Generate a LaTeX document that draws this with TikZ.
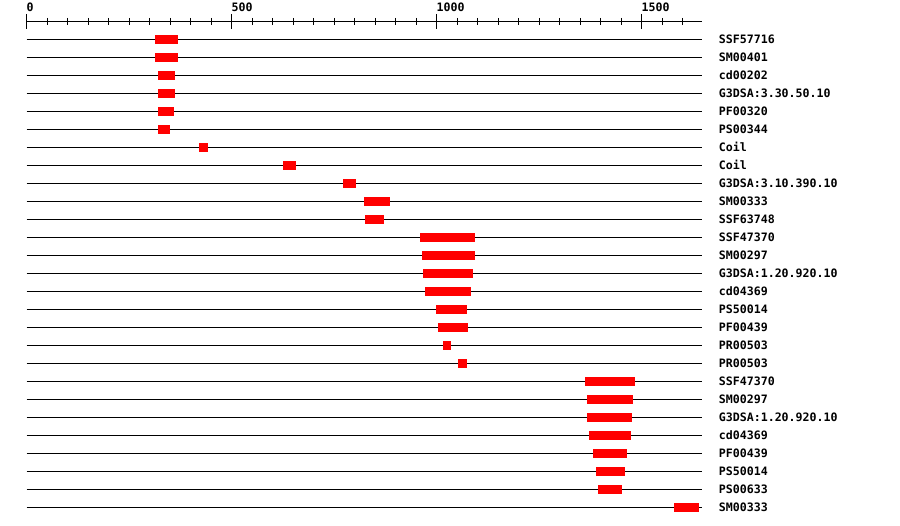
\documentclass[tikz,border=0pt]{standalone}
\usepackage{fontspec}
\setmonofont{DejaVu Sans Mono}
\usepackage{xcolor}

\tikzset{
  track/.style={line width=1pt},
  hit/.style={fill=red},
  lbl/.style={anchor=base west, inner sep=0pt, font=\ttfamily\bfseries\fontsize{11.6}{12}\selectfont},
}

\begin{document}
\begin{tikzpicture}[x=1pt, y=-1pt, line cap=butt]
\useasboundingbox (0,0) rectangle (900,526);
\begin{scope}[xshift=26.5pt, x=0.41pt]
% ruler
\draw[track] (0,21.5) -- (1648,21.5);
\foreach \k in {0,50,...,1600} \draw[track] (\k,18) -- (\k,25);
\foreach \k in {0,500,1000,1500} {
  \draw[track] (\k,14) -- (\k,29);
  \node[lbl] (tick\k) at (\k,12) {\k};
}
% domain tracks
\foreach \a/\b/\t [count=\i from 0, evaluate=\i as \y using 39.5+18*\i] in {
  314/370/SSF57716, 314/370/SM00401, 321/363/cd00202, 321/363/G3DSA:3.30.50.10,
  321/360/PF00320, 321/350/PS00344, 421/443/Coil, 626/658/Coil,
  772/804/G3DSA:3.10.390.10, 824/887/SM00333, 826/873/SSF63748,
  960/1094/SSF47370, 965/1094/SM00297, 968/1090/G3DSA:1.20.920.10,
  972/1085/cd04369, 999/1075/PS50014, 1004/1077/PF00439, 1016/1036/PR00503,
  1053/1075/PR00503, 1363/1483/SSF47370, 1368/1480/SM00297,
  1368/1477/G3DSA:1.20.920.10, 1372/1475/cd04369, 1382/1465/PF00439,
  1390/1460/PS50014, 1395/1453/PS00633, 1580/1641/SM00333} {
  \draw[track] (0,\y) -- (1648,\y);
  \fill[hit] (\a,\y-4.5) rectangle (\b,\y+4.5);
  \node[lbl, xshift=16.5pt] (lab\i) at (1648,\y+4) {\t};
}
\end{scope}
\end{tikzpicture}
\end{document}
